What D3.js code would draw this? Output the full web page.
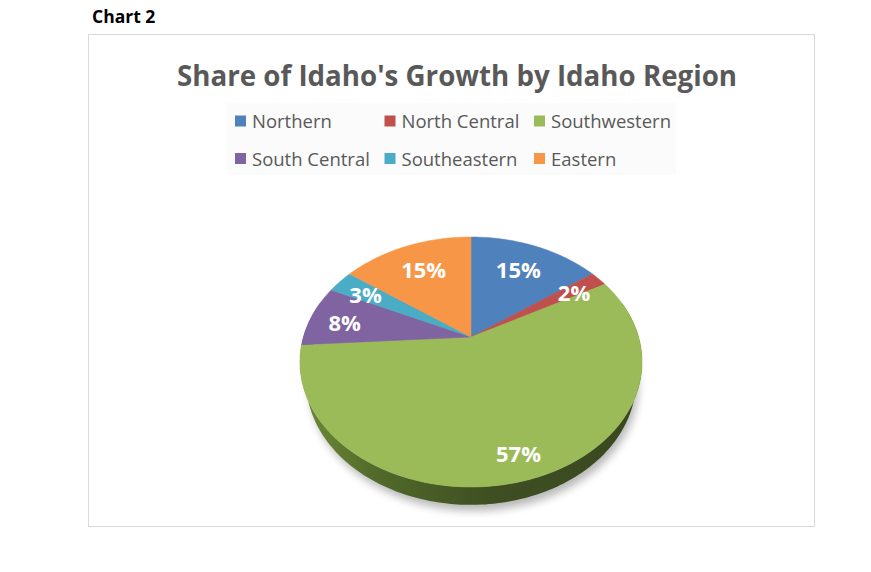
<!DOCTYPE html>
<html>
<head>
<meta charset="utf-8">
<script src="https://cdn.jsdelivr.net/npm/d3@7"></script>
<style>
  body { margin: 0; background: #fff; }
  text { font-family: "Open Sans", "Noto Sans", sans-serif; }
</style>
</head>
<body>
<div id="chart"></div>
<script>
// data
var regions = ["Northern", "North Central", "Southwestern", "South Central", "Southeastern", "Eastern"];
var shares = [15, 2, 57, 8, 3, 15];
var colors = ["#4f81bd", "#c0504d", "#9bbb59", "#8064a2", "#4bacc6", "#f79646"];
var sideColors = ["#2f4d73", "#73302e", "#4e6328", "#4c3c61", "#2d6777", "#94592a"];

var W = 871, H = 572;

var svg = d3.select("#chart").append("svg")
    .attr("width", W)
    .attr("height", H);

var defs = svg.append("defs");

// soft shadow under the pie
defs.append("filter").attr("id", "blur")
    .attr("x", "-20%").attr("y", "-20%").attr("width", "140%").attr("height", "140%")
    .append("feGaussianBlur").attr("stdDeviation", 4);

// side shading of the green wall
var grad = defs.append("linearGradient").attr("id", "sideGrad")
    .attr("gradientUnits", "userSpaceOnUse")
    .attr("x1", 300).attr("x2", 643).attr("y1", 0).attr("y2", 0);
grad.append("stop").attr("offset", "0%").attr("stop-color", "#6d8c36");
grad.append("stop").attr("offset", "22%").attr("stop-color", "#526a2a");
grad.append("stop").attr("offset", "55%").attr("stop-color", "#3f4f22");
grad.append("stop").attr("offset", "100%").attr("stop-color", "#3a4720");

svg.append("text")
    .attr("x", 92).attr("y", 23)
    .attr("font-size", 17.5).attr("font-weight", "bold").attr("fill", "#000")
    .text("Chart 2");

svg.append("rect")
    .attr("x", 88.5).attr("y", 34.5)
    .attr("width", 726).attr("height", 492)
    .attr("fill", "#fff").attr("stroke", "#d9d9d9");

svg.append("text")
    .attr("x", 457).attr("y", 86)
    .attr("text-anchor", "middle")
    .attr("font-size", 28).attr("font-weight", "bold").attr("fill", "#595959")
    .attr("textLength", 560).attr("lengthAdjust", "spacingAndGlyphs")
    .text("Share of Idaho's Growth by Idaho Region");

// legend
var legend = svg.append("g");
legend.append("rect")
    .attr("x", 227).attr("y", 103).attr("width", 449).attr("height", 72)
    .attr("fill", "#fbfbfb");

var item = legend.selectAll("g.item")
    .data(regions)
    .enter().append("g").attr("class", "item")
    .attr("transform", function(d, i) {
      return "translate(" + (235 + (i % 3) * 149.5) + "," + (121 + Math.floor(i / 3) * 37.5) + ")";
    });
item.append("rect")
    .attr("x", 0).attr("y", -5.5).attr("width", 11).attr("height", 11)
    .attr("fill", function(d, i) { return colors[i]; });
item.append("text")
    .attr("x", 17).attr("y", 7)
    .attr("font-size", 18.5).attr("fill", "#595959")
    .text(function(d) { return d; });

// 3d pie: perspective projection of a unit disc
var cx = 471, cy = 337;
var sinE = 0.716, cosE = Math.sqrt(1 - sinE * sinE);
var dist = 5 * cosE, focal = 600 * cosE / sinE;
var thick = 0.173;

function project(a, r, h) {
  var X = r * Math.sin(a), Z = r * Math.cos(a);
  var yv = Z * sinE - h * cosE;
  var depth = dist + Z * cosE + h * sinE;
  return [cx + focal * X / depth, cy - focal * yv / depth];
}

function rim(a0, a1, r, h) {
  var n = Math.max(2, Math.ceil((a1 - a0) / 0.02));
  var pts = [];
  for (var k = 0; k <= n; k++) pts.push(project(a0 + (a1 - a0) * k / n, r, h));
  return pts;
}

var line = d3.line();

var pie = d3.pie().sort(null).value(function(d) { return d; });
var arcs = pie(shares);

var pieG = svg.append("g");

// shadow
pieG.append("path")
    .attr("d", line(rim(0, 2 * Math.PI, 1.0, thick + 0.02)) + "Z")
    .attr("transform", "translate(3,4)")
    .attr("fill", "#000").attr("opacity", 0.28)
    .attr("filter", "url(#blur)");

// walls (only the front half shows, the tops cover the rest)
var front0 = Math.PI / 2, front1 = 3 * Math.PI / 2;
pieG.selectAll("path.wall")
    .data(arcs)
    .enter().append("path").attr("class", "wall")
    .attr("d", function(d) {
      var a0 = Math.max(d.startAngle, front0 - 0.3), a1 = Math.min(d.endAngle, front1 + 0.3);
      if (a1 <= a0) return null;
      var top = rim(a0, a1, 1, 0), bot = rim(a0, a1, 1, thick).reverse();
      return line(top.concat(bot)) + "Z";
    })
    .attr("fill", function(d, i) { return i == 2 ? "url(#sideGrad)" : sideColors[i]; });

// tops
pieG.selectAll("path.top")
    .data(arcs)
    .enter().append("path").attr("class", "top")
    .attr("d", function(d) {
      return line([project(0, 0, 0)].concat(rim(d.startAngle, d.endAngle, 1, 0))) + "Z";
    })
    .attr("fill", function(d, i) { return colors[i]; })
    .attr("stroke", function(d, i) { return colors[i]; })
    .attr("stroke-width", 0.5);

// labels
function labelRadius(d) {
  var share = d.value / d3.sum(shares);
  if (share > 0.5) return 0.85;
  if (share < 0.1) return 0.79;
  return 0.7;
}

pieG.selectAll("text.lbl")
    .data(arcs)
    .enter().append("text").attr("class", "lbl")
    .each(function(d) {
      var p = project((d.startAngle + d.endAngle) / 2, labelRadius(d), 0);
      var dy = labelRadius(d) < 0.8 && d.value < 10 ? 11 : 8;
      d3.select(this).attr("x", p[0]).attr("y", p[1] + dy);
    })
    .attr("text-anchor", "middle")
    .attr("font-size", 22).attr("font-weight", "bold").attr("fill", "#fff")
    .text(function(d) { return d.value + "%"; });
</script>
</body>
</html>
